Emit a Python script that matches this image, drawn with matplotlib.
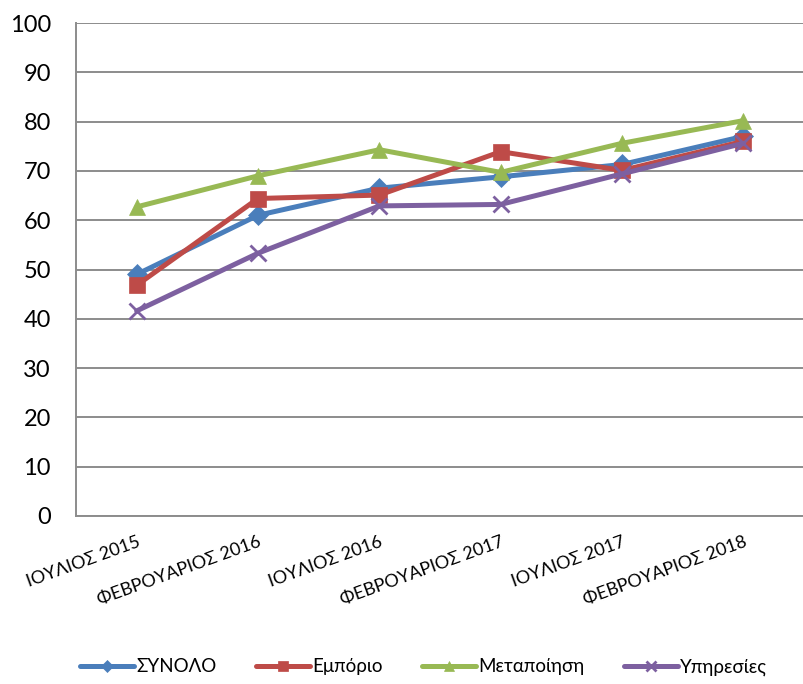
import matplotlib
matplotlib.use("Agg")
import matplotlib.pyplot as plt

plt.rcParams['font.family'] = ['Lato', 'DejaVu Sans']

# Data
CATEGORIES = ["ΙΟΥΛΙΟΣ 2015", "ΦΕΒΡΟΥΑΡΙΟΣ 2016", "ΙΟΥΛΙΟΣ 2016",
              "ΦΕΒΡΟΥΑΡΙΟΣ 2017", "ΙΟΥΛΙΟΣ 2017", "ΦΕΒΡΟΥΑΡΙΟΣ 2018"]
SYNOLO = [49.0, 61.0, 66.5, 68.8, 71.3, 77.0]
EMPORIO = [46.8, 64.4, 65.1, 73.9, 70.1, 76.0]
METAPOIISI = [62.7, 69.0, 74.3, 69.7, 75.6, 80.2]
YPIRESIES = [41.6, 53.3, 62.9, 63.2, 69.4, 75.6]

SERIES = [
    ("ΣΥΝΟΛΟ", SYNOLO, "#4A7EBB", "D", 10),
    ("Εμπόριο", EMPORIO, "#BE4B48", "s", 11),
    ("Μεταποίηση", METAPOIISI, "#98B954", "^", 12),
    ("Υπηρεσίες", YPIRESIES, "#7D60A0", "x", 11),
]

fig = plt.figure(figsize=(8.04, 6.84), dpi=100)
ax = fig.add_axes([76 / 804, 1 - 516 / 684, 1 - 76 / 804, (516 - 23) / 684])

x = list(range(len(CATEGORIES)))
for name, vals, color, marker, ms in SERIES:
    ax.plot(x, vals, color=color, lw=3.6, marker=marker, markersize=ms,
            markeredgewidth=2 if marker == "x" else 0.5, markeredgecolor=color,
            label=name, solid_capstyle="round", zorder=3)

ax.set_xlim(-0.5, len(CATEGORIES) - 0.5)
ax.set_ylim(0, 100)
ax.set_yticks(range(0, 101, 10))
ax.yaxis.grid(True, color="#8c8c8c", lw=1.4)
ax.set_axisbelow(True)

for s in ["top", "right"]:
    ax.spines[s].set_visible(False)
for s in ["left", "bottom"]:
    ax.spines[s].set_color("#8c8c8c")
    ax.spines[s].set_linewidth(1.4)

ax.tick_params(axis="y", length=0, pad=18, labelsize=17)
ax.tick_params(axis="x", length=0, pad=13)
ax.set_xticks(x)
ax.set_xticklabels(CATEGORIES, rotation=20, ha="right", va="top",
                   rotation_mode="anchor", fontsize=13)

fig.legend(loc="center left", bbox_to_anchor=(80 / 804, 1 - 667 / 684), ncol=4,
           frameon=False, fontsize=13.5, handlelength=2.9, handletextpad=0.1,
           columnspacing=2.1, markerscale=0.6, borderpad=0, borderaxespad=0)

fig.savefig("out.png", dpi=100)
